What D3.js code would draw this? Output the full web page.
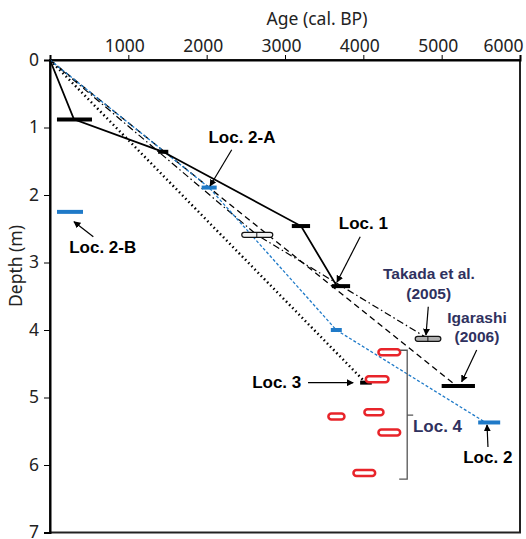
<!DOCTYPE html>
<html>
<head>
<meta charset="utf-8">
<script src="https://cdn.jsdelivr.net/npm/d3@7"></script>
<style>
  body { margin: 0; background: #fff; }
  svg { display: block; }
</style>
</head>
<body>
<div id="chart"></div>
<script>
// age-depth plot, Loc. 1-4

const xTicks = [0, 1000, 2000, 3000, 4000, 5000, 6000];
const yTicks = [0, 1, 2, 3, 4, 5, 6, 7];

// [age, depth] vertices of each age-depth model
const loc1Line = [[0, 0], [306, 0.88], [1443, 1.36], [3205, 2.46], [3662, 3.35]];
const loc2Line = [[0, 0], [2030, 1.89], [3655, 4.0], [5560, 5.37]];
const takadaLine = [[0, 0], [2640, 2.59], [4830, 4.13]];
const igarashiLine = [[0, 0], [5190, 4.83]];
const loc3Line = [[0, 0], [4030, 4.78]];

// dated horizons: age range and depth
const blackBars = [
  { from: 89, to: 536, depth: 0.88 },
  { from: 1380, to: 1510, depth: 1.36 },
  { from: 3087, to: 3320, depth: 2.46 },
  { from: 3598, to: 3831, depth: 3.35 },
  { from: 3959, to: 4108, depth: 4.78 },
  { from: 5000, to: 5425, depth: 4.83 }
];
const blueBars = [
  { from: 89, to: 421, depth: 2.25 },
  { from: 1936, to: 2128, depth: 1.89 },
  { from: 3585, to: 3725, depth: 4.0 },
  { from: 5466, to: 5747, depth: 5.37 }
];
const takadaBars = [
  { from: 2448, to: 2844, mid: 2640, depth: 2.59 },
  { from: 4662, to: 4990, mid: 4824, depth: 4.13 }
];
const loc4Samples = [
  { from: 4193, to: 4470, depth: 4.33 },
  { from: 4032, to: 4321, depth: 4.73 },
  { from: 3554, to: 3759, depth: 5.28 },
  { from: 4014, to: 4257, depth: 5.22 },
  { from: 4193, to: 4470, depth: 5.52 },
  { from: 3874, to: 4151, depth: 6.12 }
];

const W = 526, H = 539;
const navy = "#2f315e";
const blue = "#1f7ac8";

const svg = d3.select("#chart").append("svg")
  .attr("width", W).attr("height", H);

const x = d3.scaleLinear().domain([0, 6000]).range([50, 520]);
const y = d3.scaleLinear().domain([0, 7]).range([60, 532.5]);

const defs = svg.append("defs");
defs.append("marker")
  .attr("id", "head")
  .attr("viewBox", "0 0 10 10")
  .attr("refX", 9).attr("refY", 5)
  .attr("markerWidth", 7).attr("markerHeight", 7)
  .attr("markerUnits", "userSpaceOnUse")
  .attr("orient", "auto")
  .append("path").attr("d", "M0,0 L10,5 L0,10 z").attr("fill", "#000");

// frame
svg.append("rect")
  .attr("x", x(0)).attr("y", y(0))
  .attr("width", x(6000) - x(0)).attr("height", y(7) - y(0))
  .attr("fill", "none").attr("stroke", "#222").attr("stroke-width", 2);

// axes
const xAxis = svg.append("g")
  .attr("transform", `translate(0,${y(0)})`)
  .call(d3.axisTop(x).tickValues(xTicks).tickSize(5).tickPadding(3)
    .tickFormat(d => d === 0 ? "" : d));
xAxis.select(".domain").attr("stroke-width", 2);
xAxis.selectAll(".tick text")
  .attr("dx", d => d === 6000 ? -17 : -4);

const yAxis = svg.append("g")
  .attr("transform", `translate(${x(0)},0)`)
  .call(d3.axisLeft(y).tickValues(yTicks).tickSize(6).tickPadding(5)
    .tickFormat(d3.format("d")));
yAxis.select(".domain").attr("stroke-width", 2);

svg.selectAll(".tick text")
  .style("font-family", "'Noto Sans', sans-serif")
  .style("font-size", "17.5px")
  .attr("fill", "#222");
yAxis.selectAll(".tick text").attr("dy", "0.3em");

svg.append("text")
  .attr("x", 317).attr("y", 25)
  .attr("text-anchor", "middle")
  .style("font-family", "'Noto Sans', sans-serif")
  .style("font-size", "17.5px")
  .attr("fill", "#222")
  .text("Age (cal. BP)");

svg.append("text")
  .attr("transform", "translate(22,266) rotate(-90)")
  .attr("text-anchor", "middle")
  .style("font-family", "'Noto Sans', sans-serif")
  .style("font-size", "17.5px")
  .attr("fill", "#222")
  .text("Depth (m)");

// model lines
const line = d3.line().x(d => x(d[0])).y(d => y(d[1]));
const plot = svg.append("g");

plot.append("path").datum(loc3Line).attr("d", line)
  .attr("fill", "none").attr("stroke", "#000").attr("stroke-width", 2.5)
  .attr("stroke-dasharray", "1.5,3");
plot.append("path").datum(takadaLine).attr("d", line)
  .attr("fill", "none").attr("stroke", "#000").attr("stroke-width", 1.2)
  .attr("stroke-dasharray", "7,3,1.5,3");
plot.append("path").datum(igarashiLine).attr("d", line)
  .attr("fill", "none").attr("stroke", "#000").attr("stroke-width", 1.3)
  .attr("stroke-dasharray", "6,4");
plot.append("path").datum(loc2Line).attr("d", line)
  .attr("fill", "none").attr("stroke", blue).attr("stroke-width", 1.3)
  .attr("stroke-dasharray", "3,2");
plot.append("path").datum(loc1Line).attr("d", line)
  .attr("fill", "none").attr("stroke", "#000").attr("stroke-width", 1.8);

// horizons
plot.selectAll(".bb").data(blackBars).enter().append("line")
  .attr("x1", d => x(d.from)).attr("x2", d => x(d.to))
  .attr("y1", d => y(d.depth)).attr("y2", d => y(d.depth))
  .attr("stroke", "#000").attr("stroke-width", 4);

plot.selectAll(".bl").data(blueBars).enter().append("line")
  .attr("x1", d => x(d.from)).attr("x2", d => x(d.to))
  .attr("y1", d => y(d.depth)).attr("y2", d => y(d.depth))
  .attr("stroke", blue).attr("stroke-width", 4);

const tk = plot.selectAll(".tk").data(takadaBars).enter().append("g");
tk.append("rect")
  .attr("x", d => x(d.from)).attr("y", d => y(d.depth) - 2.5)
  .attr("width", d => x(d.to) - x(d.from)).attr("height", 5)
  .attr("rx", 2.5)
  .attr("fill", (d, i) => i === 0 ? "#f2f2f2" : "#b0b0b0")
  .attr("stroke", "#111").attr("stroke-width", 1.2);
tk.append("line")
  .attr("x1", d => x(d.mid)).attr("x2", d => x(d.mid))
  .attr("y1", d => y(d.depth) - 2.5).attr("y2", d => y(d.depth) + 2.5)
  .attr("stroke", "#111").attr("stroke-width", 1);

plot.selectAll(".l4").data(loc4Samples).enter().append("rect")
  .attr("x", d => x(d.from)).attr("y", d => y(d.depth) - 3)
  .attr("width", d => x(d.to) - x(d.from)).attr("height", 6)
  .attr("rx", 3)
  .attr("fill", "#fff").attr("stroke", "#e8242a").attr("stroke-width", 2.5);

// Loc. 4 brace
const bx = x(4560), bTop = y(4.30), bBot = y(6.21), bMid = y(5.26);
plot.append("path")
  .attr("d", `M${bx - 7},${bTop} L${bx},${bTop} L${bx},${bBot} L${bx - 8},${bBot} M${bx},${bMid} L${bx + 6},${bMid}`)
  .attr("fill", "none").attr("stroke", "#555").attr("stroke-width", 1.3);

// labels
function label(text, age, depth, color, size, anchor) {
  svg.append("text")
    .attr("x", x(age)).attr("y", y(depth))
    .attr("text-anchor", anchor || "middle")
    .style("font-family", "'Liberation Sans', Arial, sans-serif")
    .style("font-weight", "bold")
    .style("font-size", size + "px")
    .attr("fill", color)
    .text(text);
}
function arrow(a1, d1, a2, d2) {
  svg.append("line")
    .attr("x1", x(a1)).attr("y1", y(d1))
    .attr("x2", x(a2)).attr("y2", y(d2))
    .attr("stroke", "#000").attr("stroke-width", 1.2)
    .attr("marker-end", "url(#head)");
}

label("Loc. 2-A", 2451, 1.234, "#000", 17);
arrow(2320, 1.33, 2043, 1.867);
label("Loc. 1", 4000, 2.508, "#000", 17);
arrow(3960, 2.62, 3664, 3.289);
label("Loc. 2-B", 673, 2.855, "#000", 17);
arrow(553, 2.618, 306, 2.396);
label("Takada et al.", 4838, 3.249, navy, 15.5);
label("(2005)", 4834, 3.541, navy, 15.5);
arrow(4829, 3.655, 4800, 4.074);
label("Igarashi", 5451, 3.892, navy, 15.5);
label("(2006)", 5451, 4.173, navy, 15.5);
arrow(5447, 4.296, 5256, 4.766);
label("Loc. 3", 2894, 4.864, "#000", 17);
arrow(3294, 4.781, 3870, 4.781);
label("Loc. 4", 4947, 5.516, navy, 17);
label("Loc. 2", 5589, 5.966, "#000", 17);
arrow(5591, 5.733, 5579, 5.407);
</script>
</body>
</html>
